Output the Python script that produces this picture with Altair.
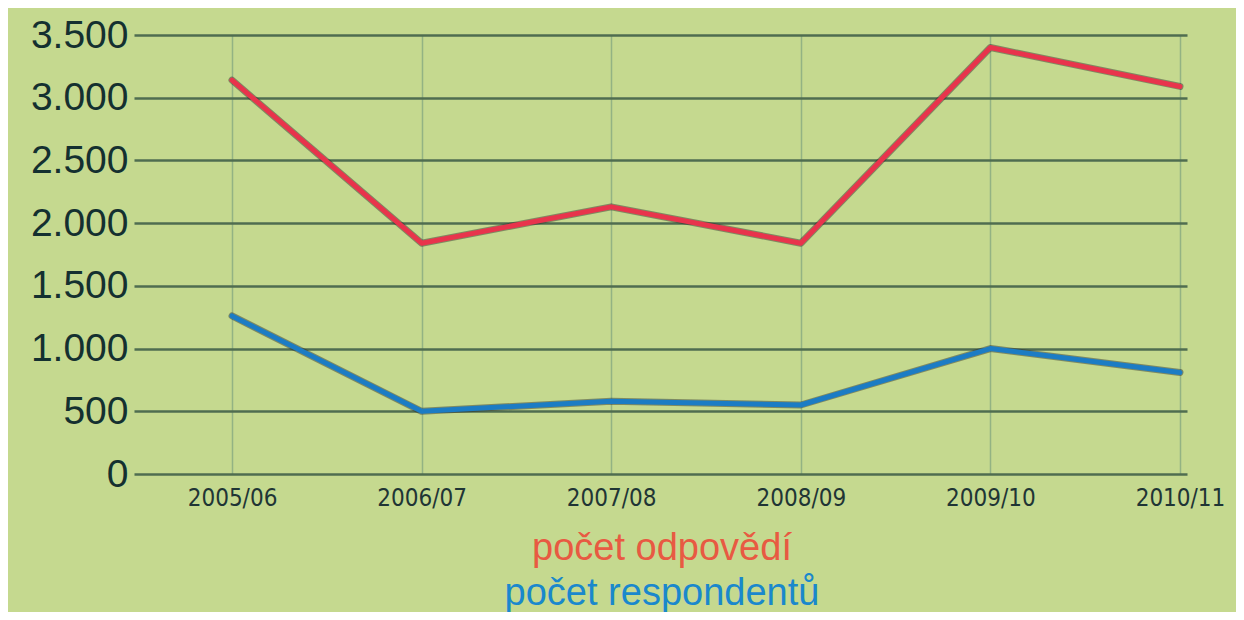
import altair as alt
import pandas as pd

years = ["2005/06", "2006/07", "2007/08", "2008/09", "2009/10", "2010/11"]
odpovedi = [3140, 1840, 2130, 1840, 3400, 3090]
respondenti = [1260, 500, 580, 550, 1000, 810]
series_names = ["počet odpovědí", "počet respondentů"]
series_colors = ["#e8344c", "#1c7cc4"]
legend_colors = ["#e85a42", "#1a88cc"]
y_ticks = [0, 500, 1000, 1500, 2000, 2500, 3000, 3500]

rows = []
for i, y in enumerate(years):
    rows.append({"rok": y, "serie": series_names[0], "hodnota": odpovedi[i], "idx": i})
    rows.append({"rok": y, "serie": series_names[1], "hodnota": respondenti[i], "idx": i})
df = pd.DataFrame(rows)

year_lookup = "[" + ",".join("'" + y + "'" for y in years) + "]"

x_enc = alt.X(
    "idx:Q",
    scale=alt.Scale(domain=[-0.517, 5.037], nice=False, zero=False),
    axis=alt.Axis(
        title=None, values=list(range(len(years))), ticks=False, domain=False,
        grid=True, gridColor="#93b383", gridWidth=1.5,
        labelFont="DejaVu Sans Condensed, Liberation Sans Narrow, Arial Narrow, sans-serif",
        labelFontSize=24, labelColor="#1f3535", labelPadding=12,
        labelExpr=year_lookup + "[datum.value]",
    ),
)
y_enc = alt.Y(
    "hodnota:Q",
    scale=alt.Scale(domain=[0, 3500], nice=False),
    axis=alt.Axis(
        title=None, values=y_ticks, ticks=False, domain=False,
        grid=True, gridColor="#4f6d50", gridWidth=2.5,
        labelFont="Liberation Sans", labelFontSize=39,
        labelColor="#143030", labelPadding=6,
        labelExpr="replace(format(datum.value, ','), ',', '.')",
    ),
)
color_enc = alt.Color(
    "serie:N",
    scale=alt.Scale(domain=series_names, range=series_colors),
    legend=None,
)

base = alt.Chart(df)
shadow = base.mark_line(strokeWidth=7, color="#2a2a2a", opacity=0.45, strokeCap="round", strokeJoin="round").encode(
    x=x_enc, y=y_enc, detail="serie:N", order="idx:Q"
)
lines = base.mark_line(strokeWidth=5, strokeCap="round", strokeJoin="round").encode(
    x=x_enc, y=y_enc, color=color_enc, order="idx:Q"
)

legend_df = pd.DataFrame({"label": series_names, "pos": [0, 1]})
leg1 = alt.Chart(legend_df).transform_filter("datum.pos == 0").mark_text(
    font="Liberation Sans", fontSize=38, align="center", baseline="middle", color=legend_colors[0]
).encode(text="label:N", x=alt.value(528), y=alt.value(514))
leg2 = alt.Chart(legend_df).transform_filter("datum.pos == 1").mark_text(
    font="Liberation Sans", fontSize=38, align="center", baseline="middle", color=legend_colors[1]
).encode(text="label:N", x=alt.value(528), y=alt.value(559))

chart = alt.layer(shadow, lines, leg1, leg2).properties(
    width=1053,
    height=439,
    autosize="none",
    padding={"left": 126, "top": 27, "right": 49, "bottom": 138},
    background="#c5d98f",
).configure_view(stroke=None)

chart.save("out.html", embed_options={"renderer": "svg", "actions": False})
